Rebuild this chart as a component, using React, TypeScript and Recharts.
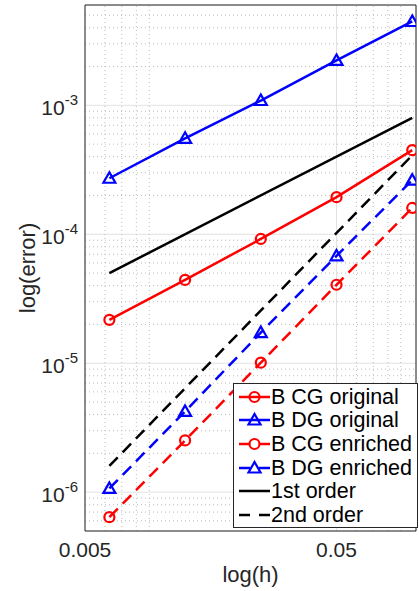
import { LineChart, Line, XAxis, YAxis, CartesianGrid, Legend, ReferenceLine } from "recharts";

// mesh size h and the measured errors
const hValues = [0.00625, 0.0125, 0.025, 0.05, 0.1];
const cgOriginal = [2.17e-5, 4.43e-5, 9.2e-5, 1.94e-4, 4.49e-4];
const dgOriginal = [2.72e-4, 5.55e-4, 1.09e-3, 2.23e-3, 4.47e-3];
const cgEnriched = [6.4e-7, 2.52e-6, 1.01e-5, 4.06e-5, 1.6e-4];
const dgEnriched = [1.07e-6, 4.23e-6, 1.73e-5, 6.8e-5, 2.63e-4];

// reference slopes
const orderH = [0.00625, 0.1];
const firstOrder = [5.0e-5, 8.0e-4];
const secondOrder = [1.6e-6, 4.1e-4];

const xTicks = [0.005, 0.05];
const xMinor = [0.006, 0.007, 0.008, 0.009, 0.06, 0.07, 0.08, 0.09];
const yTicks = [1e-6, 1e-5, 1e-4, 1e-3];
const yTickExp = ["-6", "-5", "-4", "-3"];
const yMinor = [
  6e-7, 7e-7, 8e-7, 9e-7,
  2e-6, 3e-6, 4e-6, 5e-6, 6e-6, 7e-6, 8e-6, 9e-6,
  2e-5, 3e-5, 4e-5, 5e-5, 6e-5, 7e-5, 8e-5, 9e-5,
  2e-4, 3e-4, 4e-4, 5e-4, 6e-4, 7e-4, 8e-4, 9e-4,
  2e-3, 3e-3, 4e-3, 5e-3,
];

const xDomain = [0.005, 0.1035];
const yDomain = [5e-7, 6e-3];

const FONT = '"Liberation Sans", Arial, Helvetica, sans-serif';
const INK = "#262626";

const rows = hValues.map((h, i) => ({
  h,
  cgOriginal: cgOriginal[i],
  dgOriginal: dgOriginal[i],
  cgEnriched: cgEnriched[i],
  dgEnriched: dgEnriched[i],
}));
const orderRows = orderH.map((h, i) => ({ h, first: firstOrder[i], second: secondOrder[i] }));

const series = [
  { key: "cgOriginal", name: "B CG original", color: "#ff0000", dashed: false, marker: "circle" },
  { key: "dgOriginal", name: "B DG original", color: "#0000ff", dashed: false, marker: "triangle" },
  { key: "cgEnriched", name: "B CG enriched", color: "#ff0000", dashed: true, marker: "circle" },
  { key: "dgEnriched", name: "B DG enriched", color: "#0000ff", dashed: true, marker: "triangle" },
  { key: "first", name: "1st order", color: "#000000", dashed: false, marker: null },
  { key: "second", name: "2nd order", color: "#000000", dashed: true, marker: null },
];

const DASH = "12 7";
const MINOR = { stroke: "#bdbdbd", strokeDasharray: "1 3", strokeWidth: 1 };

function Marker({ cx, cy, color, kind }: any) {
  if (kind === "circle") {
    return <circle cx={cx} cy={cy} r={5} fill="none" stroke={color} strokeWidth={2.2} />;
  }
  const pts = `${cx},${cy - 6} ${cx - 6},${cy + 4.5} ${cx + 6},${cy + 4.5}`;
  return <polygon points={pts} fill="none" stroke={color} strokeWidth={2.2} strokeLinejoin="miter" />;
}

function YTick({ x, y, payload }: any) {
  const i = yTicks.indexOf(payload.value);
  return (
    <text x={x} y={y} dy={10} textAnchor="end" fontSize={21} fill={INK} fontFamily={FONT}>
      <tspan>10</tspan>
      <tspan dy={-10} fontSize={15}>{yTickExp[i]}</tspan>
    </text>
  );
}

function YTitle({ viewBox }: any) {
  const cx = viewBox.x + 27;
  const cy = viewBox.y + viewBox.height / 2;
  return (
    <text x={cx} y={cy} transform={`rotate(-90, ${cx}, ${cy})`} textAnchor="middle"
      dominantBaseline="central" fontSize={22} fill={INK} fontFamily={FONT}>
      log(error)
    </text>
  );
}

function XTitle({ viewBox }: any) {
  const cx = viewBox.x + viewBox.width / 2;
  return (
    <text x={cx} y={viewBox.y + 43} textAnchor="middle" dominantBaseline="central"
      fontSize={22} fill={INK} fontFamily={FONT}>
      log(h)
    </text>
  );
}

function LegendBox() {
  return (
    <div style={{
      background: "#fff", border: "1px solid " + INK, width: 185, height: 145,
      boxSizing: "border-box", padding: "1px 0 0 4px", fontFamily: FONT,
    }}>
      {series.map((s) => (
        <div key={s.key} style={{ display: "flex", alignItems: "center", height: 23.6 }}>
          <svg width={33} height={20} style={{ display: "block" }}>
            <line x1={1} y1={10} x2={32} y2={10} stroke={s.color} strokeWidth={2.5}
              strokeDasharray={s.dashed ? "11 9" : undefined} />
            {s.marker && <Marker cx={16.5} cy={10} color={s.color} kind={s.marker} />}
          </svg>
          <span style={{ fontSize: 21.5, color: "#000", lineHeight: "20px", whiteSpace: "nowrap" }}>{s.name}</span>
        </div>
      ))}
    </div>
  );
}

const tickAxis = {
  type: "number" as const,
  scale: "log" as const,
  allowDataOverflow: true,
  mirror: true,
  tick: false,
  tickSize: 4,
  tickLine: { stroke: INK, strokeWidth: 1 },
};

export default function App() {
  return (
    <div style={{ position: "absolute", left: 0, top: 0, width: 419, height: 591, background: "#fff" }}>
      <LineChart width={419} height={591} data={rows} margin={{ top: 5, right: 3, bottom: 0, left: 0 }}>
        <CartesianGrid stroke="#e2e2e2" />
        {yMinor.map((v) => (
          <ReferenceLine key={"y" + v} y={v} {...MINOR} ifOverflow="hidden" />
        ))}
        {xMinor.map((v) => (
          <ReferenceLine key={"x" + v} x={v} {...MINOR} ifOverflow="hidden" />
        ))}
        <XAxis dataKey="h" type="number" scale="log" domain={xDomain} allowDataOverflow
          ticks={xTicks} tickSize={0} tickMargin={11} height={60}
          axisLine={{ stroke: INK }} tickLine={false}
          tick={{ fontSize: 21, fill: INK, fontFamily: FONT }}
          tickFormatter={(v: number) => String(v)}
          label={<XTitle />} />
        <YAxis type="number" scale="log" domain={yDomain} allowDataOverflow
          ticks={yTicks} tickSize={0} tickMargin={7} width={85}
          axisLine={{ stroke: INK }} tickLine={false} tick={<YTick />}
          label={<YTitle />} />

        {/* inward tick marks on all four sides, MATLAB box style */}
        <XAxis xAxisId="bt" orientation="bottom" height={1} domain={xDomain}
          ticks={[...xTicks, ...xMinor]} axisLine={false} {...tickAxis} />
        <XAxis xAxisId="tp" orientation="top" height={1} domain={xDomain}
          ticks={[...xTicks, ...xMinor]} axisLine={{ stroke: INK }} {...tickAxis} />
        <YAxis yAxisId="lf" orientation="left" width={1} domain={yDomain}
          ticks={[...yTicks, ...yMinor]} axisLine={false} {...tickAxis} />
        <YAxis yAxisId="rt" orientation="right" width={1} domain={yDomain}
          ticks={[...yTicks, ...yMinor]} axisLine={{ stroke: INK }} {...tickAxis} />

        {series.slice(0, 4).map((s) => (
          <Line key={s.key} dataKey={s.key} name={s.name} stroke={s.color} strokeWidth={2.5}
            strokeDasharray={s.dashed ? DASH : undefined} isAnimationActive={false}
            dot={(p: any) => <Marker key={p.index} cx={p.cx} cy={p.cy} color={s.color} kind={s.marker} />}
            activeDot={false} />
        ))}
        {series.slice(4).map((s) => (
          <Line key={s.key} data={orderRows} dataKey={s.key} name={s.name} stroke={s.color}
            strokeWidth={2.5} strokeDasharray={s.dashed ? DASH : undefined}
            isAnimationActive={false} dot={false} activeDot={false} />
        ))}

        <Legend layout="vertical" align="center" verticalAlign="middle" content={<LegendBox />}
          wrapperStyle={{ left: 233, top: 383, width: 185, height: 145 }} />
      </LineChart>
    </div>
  );
}
